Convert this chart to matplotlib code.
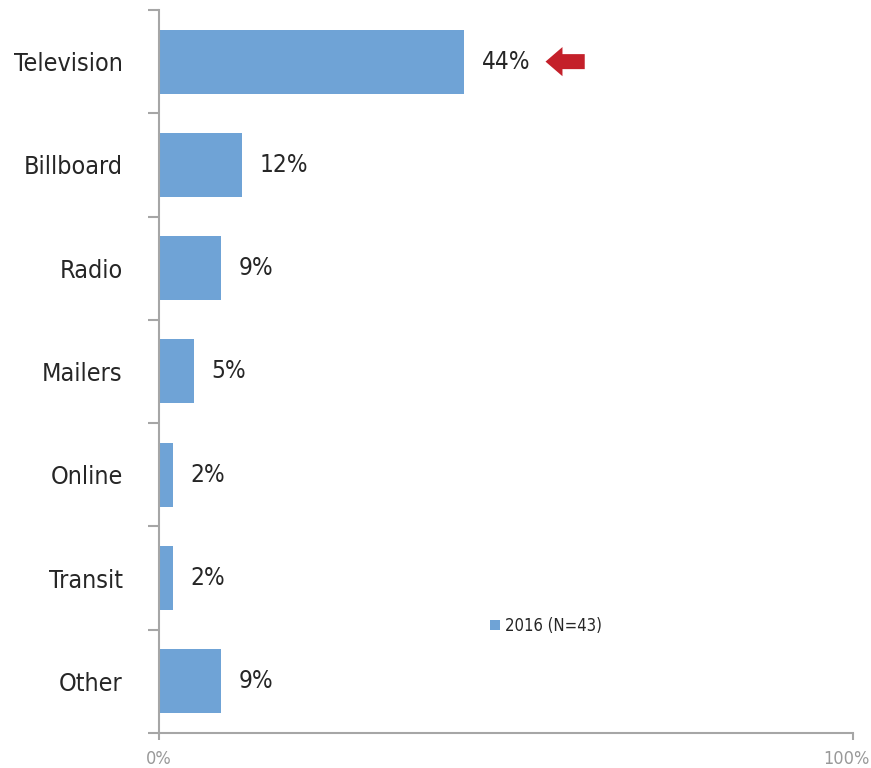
import matplotlib
matplotlib.use('Agg')
import matplotlib.pyplot as plt
import matplotlib.transforms as mtransforms
import numpy as np

plt.rcParams['font.family'] = ['DejaVu Sans']
plt.rcParams['font.stretch'] = 'condensed'

# share of respondents by advertising channel
channels = ['Television', 'Billboard', 'Radio', 'Mailers', 'Online', 'Transit', 'Other']
shares = [44, 12, 9, 5, 2, 2, 9]
series_name = '2016 (N=43)'

bar_color = '#6FA3D6'
axis_color = '#A6A6A6'
text_color = '#262626'

fig = plt.figure(figsize=(8.71, 7.68), dpi=100)
ax = fig.add_axes([0.1825, 0.0456, 0.7968, 0.9414])

y = np.arange(len(channels))
vals = np.array(shares) / 100.0
ax.barh(y, vals, height=0.62, color=bar_color, label=series_name)

for yi, v, s in zip(y, vals, shares):
    ax.text(v + 0.025, yi, '%d%%' % s, va='center', ha='left',
            fontsize=17.5, color=text_color)

# arrow pointing at the top bar's label
ax.annotate('', xy=(0.557, 0), xytext=(0.6135, 0),
            arrowprops=dict(arrowstyle='simple,head_length=1.22,head_width=2.1,tail_width=1.08',
                            mutation_scale=10, shrinkA=0, shrinkB=0,
                            color='#C4202A', lw=0))

ax.set_xlim(0, 1)
ax.set_ylim(len(channels) - 0.5, -0.5)

# category labels sit between the boundary ticks
ax.set_yticks(np.arange(-0.5, len(channels)), minor=False)
ax.set_yticklabels([])
ax.set_yticks(y, minor=True)
ax.set_yticklabels(channels, minor=True, fontsize=18, color=text_color)
ax.tick_params(axis='y', which='major', length=8, width=1.5, color=axis_color)
ax.tick_params(axis='y', which='minor', length=0, pad=26)

ax.set_xticks([0, 1])
ax.set_xticklabels(['0%', '100%'], fontsize=13, color='#999999')
ax.tick_params(axis='x', length=5, width=1.5, color=axis_color, pad=7)
# keep the right label inside the figure
lbl = ax.get_xticklabels()[-1]
lbl.set_transform(lbl.get_transform() + mtransforms.ScaledTranslation(-5 / 72, 0, fig.dpi_scale_trans))

for side in ['top', 'right']:
    ax.spines[side].set_visible(False)
for side in ['left', 'bottom']:
    ax.spines[side].set_color(axis_color)
    ax.spines[side].set_linewidth(1.5)

leg = ax.legend(loc='center left', bbox_to_anchor=(0.455, 0.148), frameon=False,
                fontsize=12, handlelength=0.6, handleheight=0.6, handletextpad=0.3)
for t in leg.get_texts():
    t.set_color(text_color)

fig.savefig('out.png', dpi=100)
